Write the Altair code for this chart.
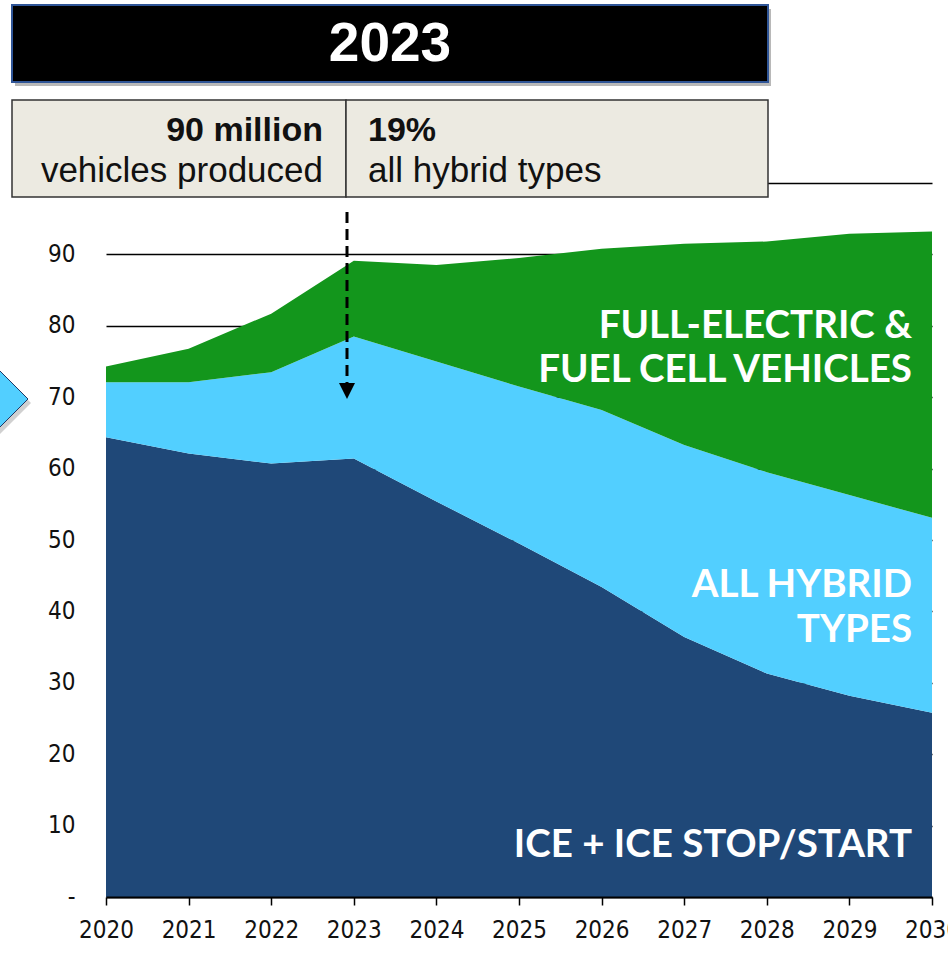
import altair as alt
import pandas as pd

# ---- data (million vehicles produced) ----
years = [2020, 2021, 2022, 2023, 2024, 2025, 2026, 2027, 2028, 2029, 2030]
ice = [64.4, 62.1, 60.7, 61.4, 55.4, 49.5, 43.4, 36.4, 31.3, 28.2, 25.8]
hybrid = [7.7, 10.0, 12.8, 17.1, 19.6, 22.0, 24.8, 26.9, 28.2, 28.1, 27.3]
bev = [2.2, 4.7, 8.2, 10.6, 13.5, 18.0, 22.6, 28.2, 32.3, 36.6, 40.1]
series_names = ["ICE + ICE STOP/START", "ALL HYBRID TYPES", "FULL-ELECTRIC & FUEL CELL VEHICLES"]
series_colors = ["#1F4878", "#52CFFF", "#13961C"]
y_ticks = [0, 10, 20, 30, 40, 50, 60, 70, 80, 90, 100]

rows = []
for i, y in enumerate(years):
    for k, (name, vals) in enumerate(zip(series_names, [ice, hybrid, bev])):
        rows.append({"year": y, "series": name, "value": vals[i], "ord": k})
df = pd.DataFrame(rows)

W, H = 826, 714
LAB = "Lato, 'Liberation Sans', sans-serif"
SANS = "'Liberation Sans', Arial, sans-serif"
NARROW = "'Liberation Sans Narrow', 'DejaVu Sans Condensed', sans-serif"

areas = alt.Chart(df).mark_area(opacity=1).encode(
    x=alt.X("year:Q", scale=alt.Scale(domain=[2020, 2030], nice=False, zero=False),
            axis=alt.Axis(values=years, format="d", title=None, grid=False,
                          domainColor="black", domainWidth=2, tickColor="black",
                          tickWidth=1.5, tickSize=8, labelFont=NARROW, labelFontSize=24,
                          labelColor="#111", labelPadding=13, labelFlush=False, zindex=1)),
    y=alt.Y("value:Q", stack="zero", scale=alt.Scale(domain=[0, 100], nice=False),
            axis=alt.Axis(values=y_ticks, title=None, domain=False, ticks=False,
                          grid=True, gridColor="black", gridWidth=1.5, gridOpacity=1,
                          labelFont=NARROW, labelFontSize=24, labelColor="#111",
                          labelPadding=31,
                          labelExpr="datum.value == 0 ? '-' : (datum.value == 100 ? '' : datum.label)")),
    color=alt.Color("series:N", scale=alt.Scale(domain=series_names, range=series_colors), legend=None),
    order=alt.Order("ord:Q"),
)

one = pd.DataFrame({"k": [0]})


def rect(x, x2, y, y2, **kw):
    return alt.Chart(one).mark_rect(**kw).encode(
        x=alt.value(x), x2=alt.value(x2), y=alt.value(y), y2=alt.value(y2))


def text(t, x, y, **kw):
    return alt.Chart(one).mark_text(text=t, **kw).encode(x=alt.value(x), y=alt.value(y))


def sym(path, x, y, size, **kw):
    return alt.Chart(one).mark_point(shape=path, size=size, **kw).encode(
        x=alt.value(x), y=alt.value(y))


layers = [areas]

# area labels
lab_kw = dict(font=LAB, fontWeight="bold", fontSize=38.5, color="white", align="right", baseline="middle")
layers += [
    text("FULL-ELECTRIC &", 806, 143, **lab_kw),
    text("FUEL CELL VEHICLES", 806, 187, **lab_kw),
    text("ALL HYBRID", 806, 402, **lab_kw),
    text("TYPES", 806, 447, **lab_kw),
    text("ICE + ICE STOP/START", 806, 662, **lab_kw),
]

# header box
layers += [
    rect(-91, 665, -174, -97, fill="#000000", opacity=0.28),
    rect(-94, 662, -178, -101, fill="#000000", stroke="#2F5597", strokeWidth=2),
    text("2023", 284, -139, font=SANS, fontWeight="bold", fontSize=55, color="white",
         align="center", baseline="middle"),
]

# info box
layers += [
    rect(-94, 240, -83, 14, fill="#ECEAE1", stroke="#333333", strokeWidth=1.5),
    rect(240, 662, -83, 14, fill="#ECEAE1", stroke="#333333", strokeWidth=1.5),
    text("90 million", 217, -52, font=SANS, fontWeight="bold", fontSize=34, color="#111",
         align="right", baseline="middle"),
    text("vehicles produced", 217, -12, font=SANS, fontSize=35, color="#111",
         align="right", baseline="middle"),
    text("19%", 262, -52, font=SANS, fontWeight="bold", fontSize=34, color="#111",
         align="left", baseline="middle"),
    text("all hybrid types", 262, -12, font=SANS, fontSize=35, color="#111",
         align="left", baseline="middle"),
]

# dashed arrow at 2023
layers += [
    alt.Chart(one).mark_rule(color="black", strokeWidth=3, strokeDash=[11, 6]).encode(
        x=alt.value(241), y=alt.value(29), y2=alt.value(200)),
    sym("M -1 -1 L 1 -1 L 0 1 Z", 241, 208, 256, filled=True, fill="black", stroke=None, opacity=1),
]

# cropped light-blue pointer at the left edge
layers += [
    sym("M -1 -1 L 0 0 L -1 1 Z", -75, 220, 6400, filled=True, fill="#777777", opacity=0.35),
    sym("M -1 -1 L 0 0 L -1 1 Z", -78, 216, 6400, filled=True, fill="#52CFFF",
        stroke="#1F3864", strokeWidth=1, opacity=1),
]

chart = alt.layer(*layers).properties(
    width=W, height=H,
    autosize=alt.AutoSizeParams(type="none"),
    padding={"left": 106, "top": 183, "right": 16, "bottom": 75},
    background="white",
).configure_view(stroke=None)

chart.save("out.html", embed_options={"renderer": "svg", "actions": False})
